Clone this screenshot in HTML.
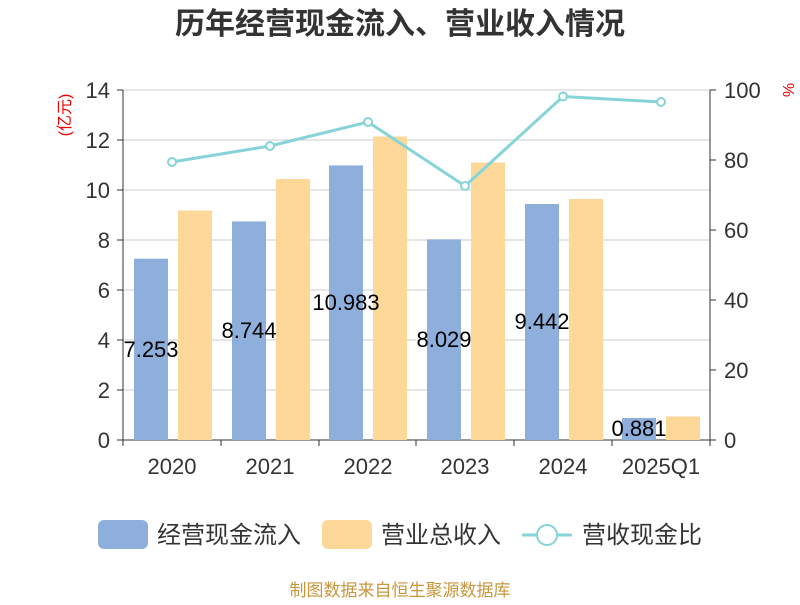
<!DOCTYPE html>
<html><head><meta charset="utf-8"><style>
body{margin:0;background:#fff;}
svg text{font-family:"Liberation Sans","Noto Sans CJK SC",sans-serif;}
</style></head><body>
<svg width="800" height="600" xmlns="http://www.w3.org/2000/svg">
<rect width="800" height="600" fill="#fff"/>
<text x="400" y="34" text-anchor="middle" font-size="30" font-weight="bold" fill="#333">历年经营现金流入、营业收入情况</text>
<g stroke="#ccc" stroke-width="1">
<line x1="123" y1="90" x2="710" y2="90"/><line x1="123" y1="140" x2="710" y2="140"/>
<line x1="123" y1="190" x2="710" y2="190"/><line x1="123" y1="240" x2="710" y2="240"/>
<line x1="123" y1="290" x2="710" y2="290"/><line x1="123" y1="340" x2="710" y2="340"/>
<line x1="123" y1="390" x2="710" y2="390"/>
</g>
<g stroke="#333" stroke-width="1">
<line x1="123" y1="90" x2="123" y2="440"/><line x1="710" y1="90" x2="710" y2="440"/>
<line x1="123" y1="440" x2="710" y2="440"/>
<line x1="117" y1="90" x2="123" y2="90"/><line x1="117" y1="140" x2="123" y2="140"/><line x1="117" y1="190" x2="123" y2="190"/><line x1="117" y1="240" x2="123" y2="240"/><line x1="117" y1="290" x2="123" y2="290"/><line x1="117" y1="340" x2="123" y2="340"/><line x1="117" y1="390" x2="123" y2="390"/><line x1="117" y1="440" x2="123" y2="440"/>
<line x1="710" y1="90" x2="716" y2="90"/><line x1="710" y1="160" x2="716" y2="160"/><line x1="710" y1="230" x2="716" y2="230"/><line x1="710" y1="300" x2="716" y2="300"/><line x1="710" y1="370" x2="716" y2="370"/><line x1="710" y1="440" x2="716" y2="440"/>
<line x1="123" y1="440" x2="123" y2="446"/><line x1="221" y1="440" x2="221" y2="446"/><line x1="319" y1="440" x2="319" y2="446"/><line x1="416" y1="440" x2="416" y2="446"/><line x1="514" y1="440" x2="514" y2="446"/><line x1="612" y1="440" x2="612" y2="446"/><line x1="710" y1="440" x2="710" y2="446"/>
</g>
<g font-size="22" fill="#333" text-anchor="end">
<text x="110" y="98">14</text><text x="110" y="148">12</text><text x="110" y="198">10</text><text x="110" y="248">8</text><text x="110" y="298">6</text><text x="110" y="348">4</text><text x="110" y="398">2</text><text x="110" y="448">0</text>
</g>
<g font-size="22" fill="#333" text-anchor="start">
<text x="724" y="98">100</text><text x="724" y="168">80</text><text x="724" y="238">60</text><text x="724" y="308">40</text><text x="724" y="378">20</text><text x="724" y="448">0</text>
</g>
<text transform="translate(70,115) rotate(-90)" font-size="16" fill="#e00" text-anchor="middle">(亿元)</text>
<text transform="translate(783,90) rotate(90)" font-size="16" fill="#e00" text-anchor="middle">%</text>
<g font-size="22" fill="#333" text-anchor="middle">
<text x="172" y="474">2020</text><text x="270" y="474">2021</text><text x="368" y="474">2022</text><text x="465" y="474">2023</text><text x="563" y="474">2024</text><text x="661" y="474">2025Q1</text>
</g>
<g fill="#8eaedb">
<rect x="134" y="258.7" width="34" height="181.3"/>
<rect x="232" y="221.4" width="34" height="218.6"/>
<rect x="329" y="165.4" width="34" height="274.6"/>
<rect x="427" y="239.3" width="34" height="200.7"/>
<rect x="525" y="204" width="34" height="236"/>
<rect x="622" y="418" width="34" height="22"/>
</g>
<g fill="#fed898">
<rect x="178" y="210.5" width="34" height="229.5"/>
<rect x="276" y="179" width="34" height="261"/>
<rect x="373" y="136.5" width="34" height="303.5"/>
<rect x="471" y="162.5" width="34" height="277.5"/>
<rect x="569" y="199" width="34" height="241"/>
<rect x="666" y="416.5" width="34" height="23.5"/>
</g>
<g font-size="22" fill="#000" text-anchor="middle">
<text x="151" y="357">7.253</text><text x="249" y="338">8.744</text><text x="346" y="310">10.983</text><text x="444" y="347">8.029</text><text x="542" y="329">9.442</text><text x="639" y="436">0.881</text>
</g>
<polyline points="172,162 270,146 368,122 465,186 563,96.5 661,102" fill="none" stroke="#86d4d8" stroke-width="3"/>
<g fill="#fff" stroke="#86d4d8" stroke-width="2">
<circle cx="172" cy="162" r="4"/><circle cx="270" cy="146" r="4"/><circle cx="368" cy="122" r="4"/><circle cx="465" cy="186" r="4"/><circle cx="563" cy="96.5" r="4"/><circle cx="661" cy="102" r="4"/>
</g>
<rect x="98" y="520" width="50" height="29" rx="6" fill="#8eaedb"/>
<text x="157" y="543" font-size="24" fill="#333">经营现金流入</text>
<rect x="322" y="520" width="50" height="29" rx="6" fill="#fed898"/>
<text x="381" y="543" font-size="24" fill="#333">营业总收入</text>
<line x1="522" y1="535" x2="572" y2="535" stroke="#86d4d8" stroke-width="3"/>
<circle cx="547" cy="535" r="10" fill="#fff" stroke="#86d4d8" stroke-width="2"/>
<text x="582" y="543" font-size="24" fill="#333">营收现金比</text>
<text x="400" y="596" text-anchor="middle" font-size="17" fill="#c8963c">制图数据来自恒生聚源数据库</text>
</svg>
</body></html>
